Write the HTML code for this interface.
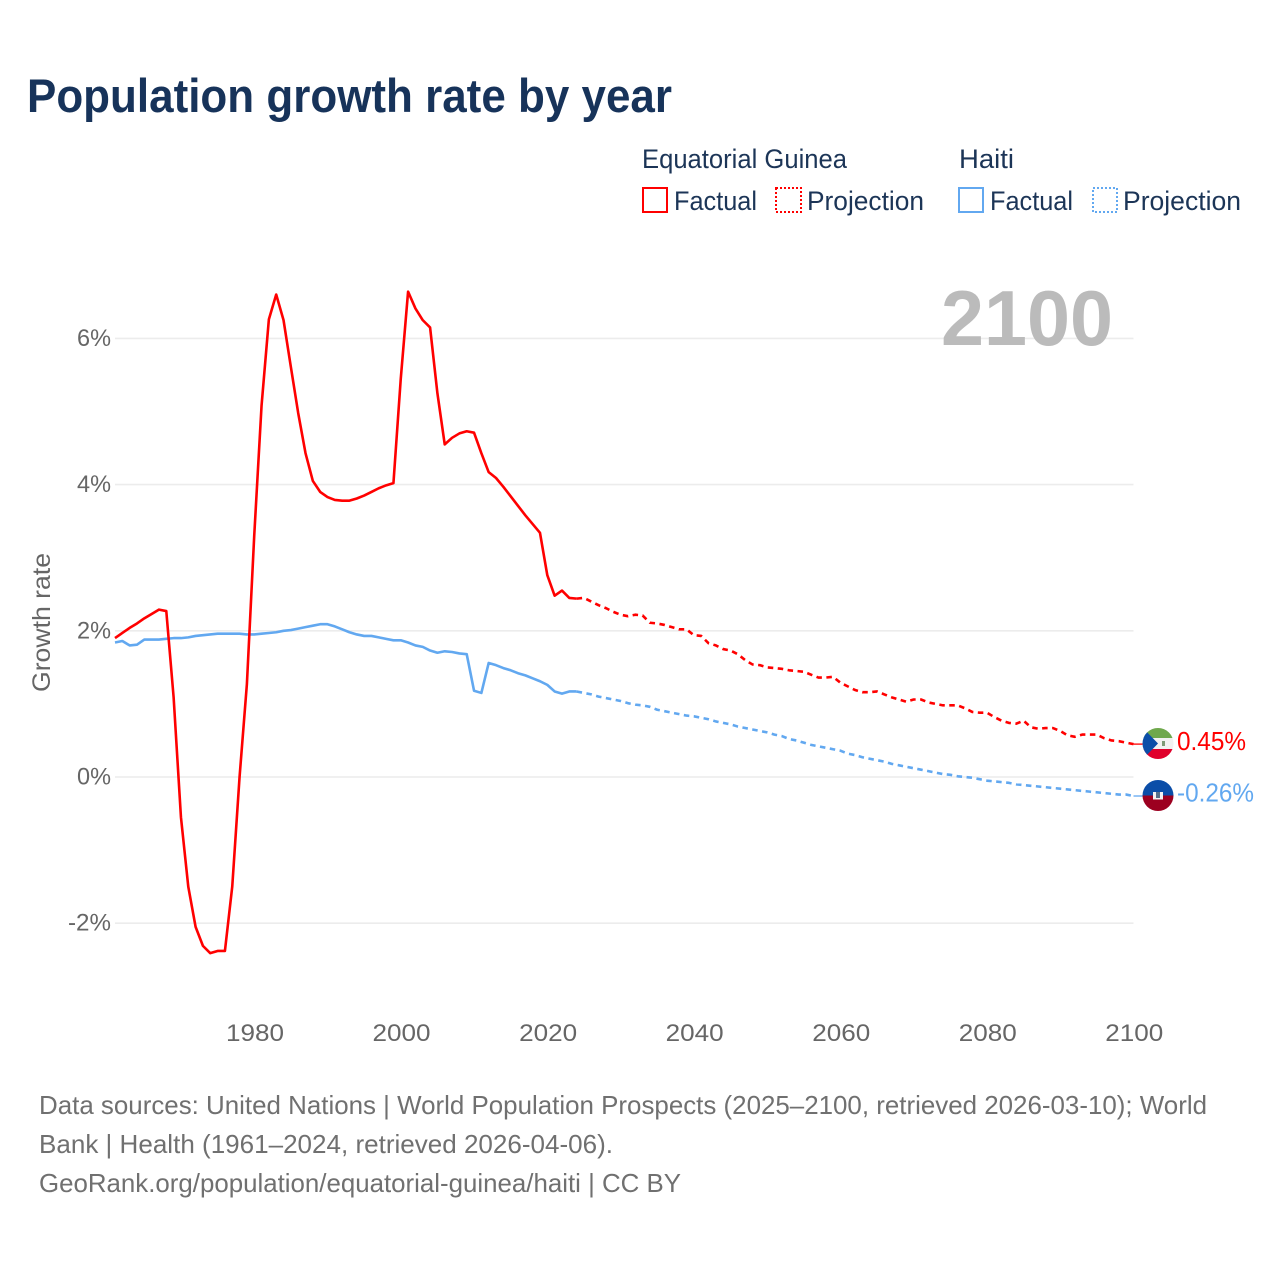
<!DOCTYPE html>
<html lang="en">
<head>
<meta charset="utf-8">
<title>Population growth rate by year</title>
<style>
html,body{margin:0;padding:0;background:#fff;}
svg{display:block;font-family:"Liberation Sans",sans-serif;}
</style>
</head>
<body>
<svg id="chart" xmlns="http://www.w3.org/2000/svg" width="1280" height="1280" viewBox="0 0 1280 1280">
  <rect x="0" y="0" width="1280" height="1280" fill="#ffffff"/>
  <defs>
    <clipPath id="clip-gq"><circle cx="1158" cy="743.5" r="15.5"/></clipPath>
    <clipPath id="clip-ht"><circle cx="1158" cy="795.5" r="15.5"/></clipPath>
  </defs>

  <text x="27" y="112" font-size="47" font-weight="700" fill="#17335a" textLength="645" lengthAdjust="spacingAndGlyphs">Population growth rate by year</text>

  <g font-size="27" fill="#1c3557">
    <text x="642" y="168" textLength="205" lengthAdjust="spacingAndGlyphs">Equatorial Guinea</text>
    <text x="959" y="168" textLength="55" lengthAdjust="spacingAndGlyphs">Haiti</text>
    <g>
      <rect x="643" y="188" width="24" height="24" fill="none" stroke="#ff0000" stroke-width="2"/>
      <text x="674" y="210" textLength="83" lengthAdjust="spacingAndGlyphs">Factual</text>
    </g>
    <g>
      <rect x="776" y="188" width="25" height="24" fill="none" stroke="#ff0000" stroke-width="2" stroke-dasharray="2 2"/>
      <text x="807" y="210" textLength="117" lengthAdjust="spacingAndGlyphs">Projection</text>
    </g>
    <g>
      <rect x="959" y="188" width="24" height="24" fill="none" stroke="#62a8f0" stroke-width="2"/>
      <text x="990" y="210" textLength="83" lengthAdjust="spacingAndGlyphs">Factual</text>
    </g>
    <g>
      <rect x="1093" y="188" width="24" height="24" fill="none" stroke="#62a8f0" stroke-width="2" stroke-dasharray="2 2"/>
      <text x="1123" y="210" textLength="118" lengthAdjust="spacingAndGlyphs">Projection</text>
    </g>
  </g>

  <g id="grid"></g>
  <g id="yticks" font-size="24" fill="#666666"></g>
  <g id="xticks" font-size="24" fill="#666666"></g>

  <text transform="translate(50,692) rotate(-90)" font-size="25" fill="#666666" textLength="139" lengthAdjust="spacingAndGlyphs">Growth rate</text>
  <text x="941" y="345" font-size="78" font-weight="700" fill="#bbbbbb" textLength="172" lengthAdjust="spacingAndGlyphs">2100</text>

  <g id="series"></g>

  <g clip-path="url(#clip-gq)">
    <rect x="1142" y="728" width="32" height="32" fill="#f1f1f1"/>
    <rect x="1142" y="728" width="32" height="10" fill="#6fa84c"/>
    <rect x="1142" y="749" width="32" height="11" fill="#e0002b"/>
    <polygon points="1142,727 1158,743.5 1142,760" fill="#0b4ea8"/>
    <rect x="1162" y="741" width="3" height="5" fill="#7d9a76"/>
  </g>
  <g clip-path="url(#clip-ht)">
    <rect x="1142" y="780" width="32" height="15.5" fill="#0b4ea8"/>
    <rect x="1142" y="795.5" width="32" height="16" fill="#9c0020"/>
    <rect x="1153" y="792" width="10" height="7.5" fill="#f3f3f3"/>
    <rect x="1156" y="792" width="4" height="6" fill="#55708a"/>
  </g>

  <text x="1177" y="750" font-size="26" fill="#ff0000" textLength="69" lengthAdjust="spacingAndGlyphs">0.45%</text>
  <text x="1177" y="801.5" font-size="26" fill="#62a8f0" textLength="77" lengthAdjust="spacingAndGlyphs">-0.26%</text>

  <g font-size="26" fill="#707070">
    <text x="39" y="1114" textLength="1168" lengthAdjust="spacingAndGlyphs">Data sources: United Nations | World Population Prospects (2025–2100, retrieved 2026-03-10); World</text>
    <text x="39" y="1153" textLength="574" lengthAdjust="spacingAndGlyphs">Bank | Health (1961–2024, retrieved 2026-04-06).</text>
    <text x="39" y="1192" textLength="642" lengthAdjust="spacingAndGlyphs">GeoRank.org/population/equatorial-guinea/haiti | CC BY</text>
  </g>
</svg>
<script>
var yTickValues = [-2, 0, 2, 4, 6];
var yTickLabels = ['-2%', '0%', '2%', '4%', '6%'];
var xTickYears = [1980, 2000, 2020, 2040, 2060, 2080, 2100];

var factualStartYear = 1961;
var projectionStartYear = 2024;

var redFactual = [1.90,1.97,2.04,2.10,2.17,2.23,2.29,2.27,1.09,-0.55,-1.50,-2.05,-2.31,-2.41,-2.38,-2.38,-1.50,0.00,1.27,3.30,
  5.08,6.26,6.60,6.25,5.61,4.98,4.43,4.05,3.90,3.83,3.79,3.78,3.78,3.81,3.85,3.90,3.95,3.99,4.02,5.45,
  6.64,6.41,6.25,6.15,5.25,4.55,4.64,4.70,4.73,4.71,4.43,4.17,4.09,3.97,3.84,3.71,3.58,3.46,3.34,2.76,
  2.48,2.55,2.45,2.44];
var redProjection = [2.44,2.45,2.40,2.35,2.31,2.26,2.22,2.20,2.22,2.21,2.11,2.10,2.08,2.05,2.02,2.02,1.94,1.93,1.83,1.80,
  1.75,1.73,1.68,1.60,1.54,1.53,1.50,1.49,1.48,1.46,1.45,1.44,1.40,1.36,1.36,1.37,1.29,1.24,1.19,1.16,
  1.16,1.17,1.13,1.09,1.06,1.03,1.06,1.06,1.02,1.00,0.98,0.98,0.98,0.94,0.89,0.88,0.88,0.82,0.77,0.74,
  0.73,0.77,0.68,0.66,0.67,0.67,0.63,0.57,0.55,0.58,0.58,0.58,0.53,0.50,0.49,0.47,0.45];
var blueFactual = [1.84,1.86,1.80,1.81,1.88,1.88,1.88,1.89,1.90,1.90,1.91,1.93,1.94,1.95,1.96,1.96,1.96,1.96,1.95,1.95,
  1.96,1.97,1.98,2.00,2.01,2.03,2.05,2.07,2.09,2.09,2.06,2.02,1.98,1.95,1.93,1.93,1.91,1.89,1.87,1.87,
  1.84,1.80,1.78,1.73,1.70,1.72,1.71,1.69,1.68,1.18,1.15,1.56,1.53,1.49,1.46,1.42,1.39,1.35,1.31,1.26,
  1.17,1.14,1.17,1.17];
var blueProjection = [1.17,1.15,1.13,1.10,1.08,1.06,1.04,1.01,0.99,0.98,0.96,0.92,0.90,0.88,0.86,0.84,0.83,0.81,0.79,0.76,
  0.74,0.72,0.69,0.67,0.65,0.63,0.61,0.58,0.56,0.52,0.50,0.47,0.44,0.42,0.40,0.38,0.36,0.32,0.30,0.27,
  0.25,0.23,0.21,0.18,0.16,0.14,0.12,0.10,0.08,0.06,0.04,0.03,0.01,0.00,-0.01,-0.03,-0.05,-0.06,-0.07,-0.08,
  -0.10,-0.11,-0.12,-0.13,-0.14,-0.15,-0.16,-0.17,-0.18,-0.19,-0.20,-0.21,-0.22,-0.23,-0.24,-0.24,-0.26];

var NS = 'http://www.w3.org/2000/svg';
function xScale(year) { return 115 + (year - 1961) * (1133.5 - 115) / (2100 - 1961); }
function yScale(v) { return 777 - v * 73.1; }

var gridGroup = document.getElementById('grid');
var yGroup = document.getElementById('yticks');
var xGroup = document.getElementById('xticks');
var seriesGroup = document.getElementById('series');

yTickValues.forEach(function (v, i) {
  var line = document.createElementNS(NS, 'line');
  
  
  line.setAttribute('x1', 115);
  line.setAttribute('x2', 1133.5);
  line.setAttribute('y1', yScale(v));
  line.setAttribute('y2', yScale(v));
  line.setAttribute('stroke', '#ececec');
  line.setAttribute('stroke-width', 1.6);
  gridGroup.appendChild(line);

  var label = document.createElementNS(NS, 'text');
  
  
  label.setAttribute('x', 111);
  label.setAttribute('y', yScale(v) + 7.5);
  label.setAttribute('text-anchor', 'end');
  label.setAttribute('textLength', yTickLabels[i].length === 3 ? 43 : 34);
  label.setAttribute('lengthAdjust', 'spacingAndGlyphs');
  label.textContent = yTickLabels[i];
  yGroup.appendChild(label);
});

xTickYears.forEach(function (year) {
  var label = document.createElementNS(NS, 'text');
  
  
  label.setAttribute('x', xScale(year) + 0.8);
  label.setAttribute('y', 1041);
  label.setAttribute('text-anchor', 'middle');
  label.setAttribute('textLength', 58);
  label.setAttribute('lengthAdjust', 'spacingAndGlyphs');
  label.textContent = String(year);
  xGroup.appendChild(label);
});

function drawLine(values, startYear, color, dash, name) {
  var pts = values.map(function (v, i) {
    return xScale(startYear + i).toFixed(2) + ',' + yScale(v).toFixed(2);
  });
  var line = document.createElementNS(NS, 'polyline');
  
  
  line.setAttribute('points', pts.join(' '));
  line.setAttribute('fill', 'none');
  line.setAttribute('stroke', color);
  line.setAttribute('stroke-width', 2.6);
  line.setAttribute('stroke-linejoin', 'round');
  if (dash) {
    line.setAttribute('stroke-dasharray', dash);
  }
  seriesGroup.appendChild(line);
}

function drawLeader(values, color, name) {
  var last = values[values.length - 1];
  var leader = document.createElementNS(NS, 'line');
  
  
  leader.setAttribute('x1', xScale(2100));
  leader.setAttribute('x2', 1144);
  leader.setAttribute('y1', yScale(last));
  leader.setAttribute('y2', yScale(last));
  leader.setAttribute('stroke', color);
  leader.setAttribute('stroke-width', 1.3);
  seriesGroup.appendChild(leader);
}

drawLine(blueFactual, factualStartYear, '#62a8f0', null, 'haiti-factual-line');
drawLine(blueProjection, projectionStartYear, '#62a8f0', '5.5 4.5', 'haiti-projection-line');
drawLine(redFactual, factualStartYear, '#ff0000', null, 'equatorial-guinea-factual-line');
drawLine(redProjection, projectionStartYear, '#ff0000', '5.5 4.5', 'equatorial-guinea-projection-line');
drawLeader(redProjection, '#ff0000', 'equatorial-guinea-leader-line');
drawLeader(blueProjection, '#62a8f0', 'haiti-leader-line');
</script>
</body>
</html>
